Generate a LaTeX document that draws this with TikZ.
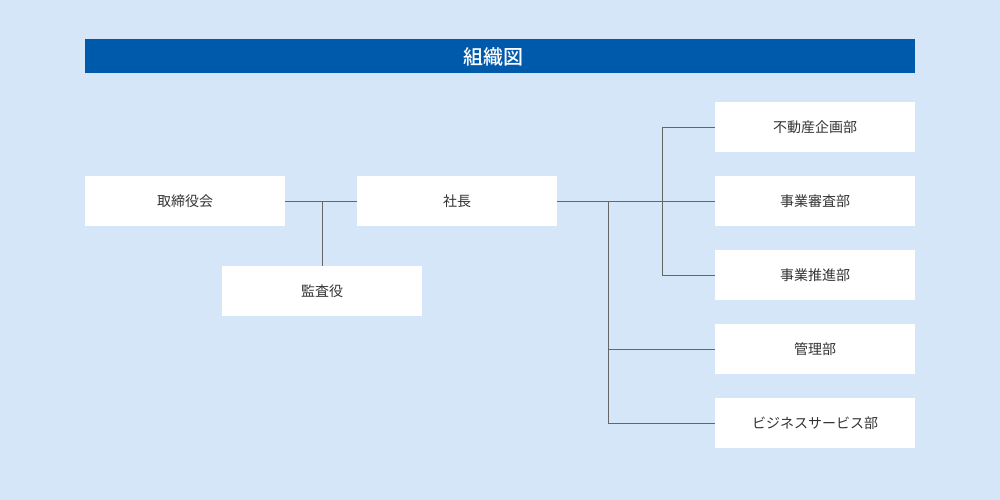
\documentclass[tikz,border=0pt]{standalone}
\usepackage{fontspec}
\setmainfont{Noto Sans CJK JP}
\newfontfamily\titlefont{Noto Sans CJK JP Medium}
\definecolor{bg}{HTML}{D4E6F7}
\definecolor{bar}{HTML}{005AAC}
\definecolor{ln}{HTML}{666666}
\definecolor{txt}{HTML}{333333}
\begin{document}
\begin{tikzpicture}[x=1pt,y=-1pt,
  box/.style={fill=white,draw=none,minimum width=200pt,minimum height=50pt,inner sep=0pt,text=txt,font=\fontsize{14}{14}\selectfont},
  conn/.style={draw=ln,line width=1pt}]
\fill[bg] (0,0) rectangle (1000,500);
\useasboundingbox (0,0) rectangle (1000,500);
\node[fill=bar,minimum width=830pt,minimum height=34pt,inner sep=0pt] (title) at (500,56) {};
\node[text=white,font=\titlefont\fontsize{20}{20}\selectfont,inner sep=0pt] (titletext) at (493,57) {組織図};
\node[box] (board) at (185,201) {取締役会};
\node[box] (pres) at (457,201) {社長};
\node[box] (audit) at (322,291) {監査役};
\node[box] (d1) at (815,127) {不動産企画部};
\node[box] (d2) at (815,201) {事業審査部};
\node[box] (d3) at (815,275) {事業推進部};
\node[box] (d4) at (815,349) {管理部};
\node[box] (d5) at (815,423) {ビジネスサービス部};
\coordinate (j1) at (322,201);
\coordinate (j2) at (608,201);
\coordinate (j3) at (662,201);
\draw[conn] (board.east) -- (pres.west);
\draw[conn] (j1) -- (audit.north);
\draw[conn] (pres.east) -- (d2.west);
\draw[conn] (d1.west) -| (j3) |- (d3.west);
\draw[conn] (j2) |- (d4.west);
\draw[conn] (j2) |- (d5.west);
\end{tikzpicture}
\end{document}
